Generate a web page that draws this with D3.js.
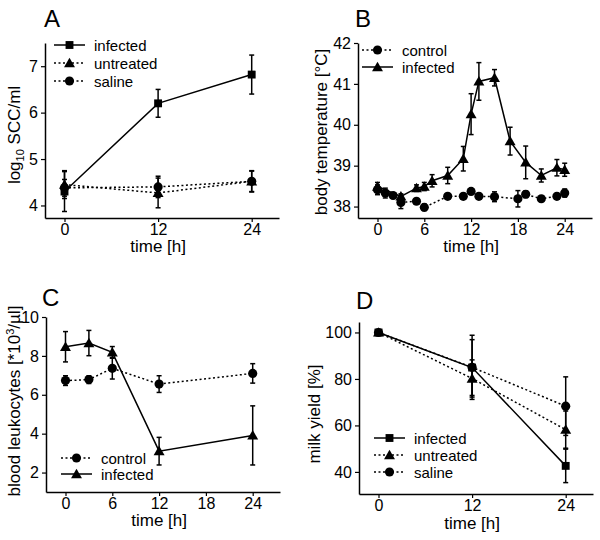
<!DOCTYPE html>
<html><head><meta charset="utf-8">
<script src="https://cdn.jsdelivr.net/npm/d3@7"></script>
<style>
body{margin:0;background:#fff;}
svg{font-family:"Liberation Sans",Arial,sans-serif;}
</style></head>
<body><svg id="c" width="600" height="540"></svg>
<script>
// ---- Data ----
// Panel A: SCC
const A_time = [0, 12, 24];
const A_infected = [4.3, 6.2, 6.82];
const A_infected_err = [0.43, 0.3, 0.42];
const A_untreated = [4.45, 4.27, 4.52];
const A_untreated_err = [0.3, 0.32, 0.22];
const A_saline = [4.38, 4.4, 4.52];
const A_saline_err = [0.18, 0.23, 0.23];
const A_yticks = [4, 5, 6, 7];
const A_xticks = [0, 12, 24];

// Panel B: body temperature
const B_ctrl_time = [0, 1, 2, 3, 5, 6, 9, 11, 12, 13, 15, 18, 19, 21, 23, 24];
const B_control = [38.41, 38.33, 38.27, 38.1, 38.13, 37.98, 38.25, 38.25, 38.37, 38.25, 38.24, 38.19, 38.3, 38.19, 38.25, 38.33];
const B_control_err = [0.12, 0.12, 0.06, 0.15, 0.05, 0.08, 0.04, 0.04, 0.06, 0.04, 0.12, 0.2, 0.08, 0.04, 0.05, 0.1];
const B_inf_time = [0, 3, 5, 6, 7, 9, 11, 12, 13, 15, 17, 19, 21, 23, 24];
const B_infected = [38.49, 38.25, 38.45, 38.49, 38.63, 38.76, 39.17, 40.26, 41.06, 41.15, 39.6, 39.08, 38.76, 38.95, 38.9];
const B_infected_err = [0.1, 0.06, 0.08, 0.1, 0.15, 0.2, 0.3, 0.5, 0.46, 0.2, 0.34, 0.4, 0.16, 0.2, 0.16];
const B_yticks = [38, 39, 40, 41, 42];
const B_xticks = [0, 6, 12, 18, 24];

// Panel C: blood leukocytes
const C_time = [0, 3, 6, 12, 24];
const C_control = [6.73, 6.78, 7.36, 6.55, 7.1];
const C_control_err = [0.25, 0.2, 0.55, 0.43, 0.5];
const C_infected = [8.47, 8.66, 8.18, 3.1, 3.91];
const C_infected_err = [0.78, 0.65, 0.3, 0.71, 1.52];
const C_yticks = [2, 4, 6, 8, 10];
const C_xticks = [0, 6, 12, 18, 24];

// Panel D: milk yield
const D_time = [0, 12, 24];
const D_infected = [100, 84.9, 42.6];
const D_infected_err = [0, 12, 7.2];
const D_untreated = [100, 80.2, 58.2];
const D_untreated_err = [0, 8, 8];
const D_saline = [100, 85, 68.3];
const D_saline_err = [0, 13.8, 12.6];
const D_yticks = [40, 60, 80, 100];
const D_xticks = [0, 12, 24];

// ---- Drawing ----
const svg = d3.select("#c");
const DOT = "2,2.5";
const FONT = "'Liberation Sans',Arial,sans-serif";
const sym = {
  square: d3.symbol().type(d3.symbolSquare).size(62),
  triangle: d3.symbol().type(d3.symbolTriangle).size(52),
  circle: d3.symbol().type(d3.symbolCircle).size(66)
};

function panel(cfg) {
  const g = svg.append("g");
  const x = d3.scaleLinear().domain(cfg.xdom).range(cfg.xr);
  const y = d3.scaleLinear().domain(cfg.ydom).range(cfg.yr);
  const fmt = d3.format("d");
  // axes
  const xa = g.append("g").attr("transform", `translate(0,${cfg.yr[0]})`)
    .call(d3.axisBottom(x).tickValues(cfg.xticks).tickFormat(fmt).tickSize(4).tickSizeOuter(0).tickPadding(2));
  const ya = g.append("g").attr("transform", `translate(${cfg.xr[0]},0)`)
    .call(d3.axisLeft(y).tickValues(cfg.yticks).tickFormat(fmt).tickSize(4).tickSizeOuter(0).tickPadding(3));
  [xa, ya].forEach(a => {
    a.attr("font-size", 16).attr("font-family", FONT);
    a.selectAll("path").attr("stroke", "#000").attr("stroke-width", 1.5);
    a.selectAll("line").attr("stroke", "#000").attr("stroke-width", 1.2);
    a.selectAll("text").attr("fill", "#000");
  });
  // series
  cfg.series.forEach(s => {
    const pts = s.t.map((t, i) => ({t, v: s.v[i], e: s.e[i]}));
    g.append("path").datum(pts)
      .attr("fill", "none").attr("stroke", "#000").attr("stroke-width", 1.5)
      .attr("stroke-dasharray", s.dotted ? DOT : null)
      .attr("d", d3.line().x(d => x(d.t)).y(d => y(d.v)));
    const eb = g.append("g");
    pts.filter(d => d.e > 0).forEach(d => {
      const cx = x(d.t), y1 = y(d.v - d.e), y2 = y(d.v + d.e);
      eb.append("line").attr("x1", cx).attr("x2", cx).attr("y1", y1).attr("y2", y2)
        .attr("stroke", "#000").attr("stroke-width", 1.5);
      [y1, y2].forEach(yy => eb.append("line").attr("x1", cx - 2.5).attr("x2", cx + 2.5)
        .attr("y1", yy).attr("y2", yy).attr("stroke", "#000").attr("stroke-width", 1.5));
    });
    g.append("g").selectAll("path").data(pts).join("path")
      .attr("transform", d => `translate(${x(d.t)},${y(d.v) + (s.shape === "triangle" ? 1 : 0)})`)
      .attr("d", sym[s.shape]()).attr("fill", "#000");
  });
  // legend
  const lg = g.append("g");
  cfg.series.filter(s => s.label).forEach((s, i) => {
    const ly = cfg.leg.y + i * cfg.leg.dy;
    lg.append("line").attr("x1", cfg.leg.x).attr("x2", cfg.leg.x + 31).attr("y1", ly).attr("y2", ly)
      .attr("stroke", "#000").attr("stroke-width", 1.5).attr("stroke-dasharray", s.dotted ? DOT : null);
    lg.append("path").attr("transform", `translate(${cfg.leg.x + 15.5},${ly + (s.shape === "triangle" ? 1 : 0)})`)
      .attr("d", sym[s.shape]()).attr("fill", "#000");
    lg.append("text").attr("x", cfg.leg.x + 40).attr("y", ly + 5.5).attr("font-size", 15).text(s.label);
  });
  // panel letter
  g.append("text").attr("x", cfg.letter[0]).attr("y", cfg.letter[1]).attr("font-size", 24).text(cfg.name);
  // x title
  g.append("text").attr("x", (x(0) + x(24)) / 2).attr("y", cfg.xtitleY).attr("text-anchor", "middle")
    .attr("font-size", 17).text("time [h]");
  // y title
  const yt = g.append("text").attr("transform", `translate(${cfg.ytitle[0]},${cfg.ytitle[1]}) rotate(-90)`)
    .attr("text-anchor", "middle").attr("font-size", 17);
  cfg.ytext(yt);
}

panel({
  name: "A", xdom: [-2.5, 27.5], xr: [45, 279], ydom: [3.73, 7.5], yr: [218, 43],
  xticks: A_xticks, yticks: A_yticks,
  series: [
    {t: A_time, v: A_infected, e: A_infected_err, shape: "square", dotted: false, label: "infected"},
    {t: A_time, v: A_untreated, e: A_untreated_err, shape: "triangle", dotted: true, label: "untreated"},
    {t: A_time, v: A_saline, e: A_saline_err, shape: "circle", dotted: true, label: "saline"}
  ],
  leg: {x: 54, y: 45, dy: 18}, letter: [44, 27], xtitleY: 252, ytitle: [20, 135],
  ytext: t => { t.append("tspan").text("log");
    t.append("tspan").attr("font-size", 11).attr("dy", 4).text("10");
    t.append("tspan").attr("dy", -4).text(" SCC/ml"); }
});

panel({
  name: "B", xdom: [-2.5, 27.5], xr: [358, 592], ydom: [37.72, 42], yr: [218, 43],
  xticks: B_xticks, yticks: B_yticks,
  series: [
    {t: B_ctrl_time, v: B_control, e: B_control_err, shape: "circle", dotted: true, label: "control"},
    {t: B_inf_time, v: B_infected, e: B_infected_err, shape: "triangle", dotted: false, label: "infected"}
  ],
  leg: {x: 362, y: 50, dy: 17}, letter: [355, 27], xtitleY: 252, ytitle: [327, 132],
  ytext: t => t.text("body temperature [°C]")
});

panel({
  name: "C", xdom: [-2.5, 27.5], xr: [46, 280], ydom: [1, 10], yr: [492, 317],
  xticks: C_xticks, yticks: C_yticks,
  series: [
    {t: C_time, v: C_control, e: C_control_err, shape: "circle", dotted: true, label: "control"},
    {t: C_time, v: C_infected, e: C_infected_err, shape: "triangle", dotted: false, label: "infected"}
  ],
  leg: {x: 61, y: 458, dy: 16}, letter: [42, 306], xtitleY: 526, ytitle: [20, 401],
  ytext: t => { t.append("tspan").text("blood leukocytes [*10");
    t.append("tspan").attr("font-size", 11).attr("dy", -6).text("3");
    t.append("tspan").attr("dy", 6).text("/µl]"); }
});

panel({
  name: "D", xdom: [-2.5, 27.5], xr: [359, 593], ydom: [30.5, 104.5], yr: [494, 322],
  xticks: D_xticks, yticks: D_yticks,
  series: [
    {t: D_time, v: D_infected, e: D_infected_err, shape: "square", dotted: false, label: "infected"},
    {t: D_time, v: D_untreated, e: D_untreated_err, shape: "triangle", dotted: true, label: "untreated"},
    {t: D_time, v: D_saline, e: D_saline_err, shape: "circle", dotted: true, label: "saline"}
  ],
  leg: {x: 374, y: 438, dy: 17}, letter: [356, 309], xtitleY: 529, ytitle: [320, 414],
  ytext: t => t.text("milk yield [%]")
});
</script></body></html>
